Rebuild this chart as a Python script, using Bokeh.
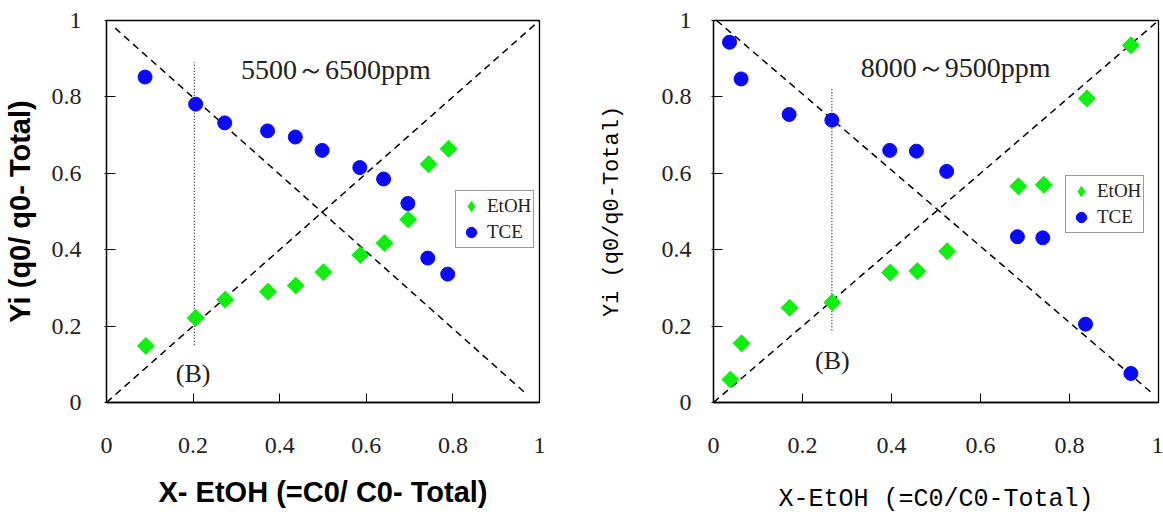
from bokeh.plotting import figure
from bokeh.layouts import row
from bokeh.models import Range1d, FixedTicker, Legend, LegendItem, CustomJSTickFormatter
from bokeh.embed import file_html
from bokeh.resources import INLINE
from bokeh.core.properties import value

ticks = [0, 0.2, 0.4, 0.6, 0.8, 1]
tick_labels = ["0", "0.2", "0.4", "0.6", "0.8", "1"]
series_names = ["EtOH", "TCE"]

# Panel A: 5500~6500 ppm
a_x_etoh = [0.091, 0.206, 0.274, 0.373, 0.437, 0.501, 0.586, 0.642, 0.697, 0.744, 0.790]
a_y_etoh = [0.148, 0.221, 0.269, 0.290, 0.306, 0.341, 0.386, 0.417, 0.479, 0.624, 0.664]
a_x_tce = [0.089, 0.206, 0.273, 0.372, 0.436, 0.498, 0.585, 0.640, 0.696, 0.742, 0.788]
a_y_tce = [0.852, 0.781, 0.732, 0.711, 0.695, 0.660, 0.615, 0.585, 0.521, 0.378, 0.336]
a_note = "5500～6500ppm"
a_b_x = 0.203
a_b_y = [0.151, 0.891]

# Panel B: 8000~9500 ppm
b_x_etoh = [0.038, 0.063, 0.171, 0.267, 0.397, 0.458, 0.525, 0.685, 0.742, 0.839, 0.938]
b_y_etoh = [0.060, 0.155, 0.248, 0.262, 0.340, 0.344, 0.396, 0.566, 0.570, 0.796, 0.935]
b_x_tce = [0.036, 0.062, 0.170, 0.266, 0.396, 0.456, 0.524, 0.683, 0.740, 0.836, 0.938]
b_y_tce = [0.943, 0.847, 0.754, 0.739, 0.660, 0.658, 0.605, 0.434, 0.431, 0.205, 0.076]
b_note = "8000～9500ppm"
b_b_x = 0.266
b_b_y = [0.189, 0.824]

diag_up_x = [0, 1]
diag_up_y = [0, 1]
a_diag_dn_x = [0.02, 0.972]
a_diag_dn_y = [0.98, 0.02]
b_diag_dn_x = [0.007, 0.99]
b_diag_dn_y = [1.0, 0.02]

GREEN = "#11EE11"
BLUE = "#0A0AF5"
SERIF = "Liberation Serif"


def make_panel(width, borders, xe, ye, xt, yt, note, note_pos, bx, by, b_lbl_pos,
               dn_x, dn_y, xlabel, ylabel, label_font, xlabel_size, ylabel_size, label_style,
               ylab_standoff, ytick_standoff, xlab_standoff, legend_loc):
    bl, br, bt, bb = borders
    p = figure(width=width, height=516, x_range=Range1d(0, 1), y_range=Range1d(0, 1),
               output_backend="svg", toolbar_location=None,
               min_border_left=bl, min_border_right=br, min_border_top=bt, min_border_bottom=bb)
    p.grid.visible = False
    p.outline_line_color = "black"
    p.outline_line_width = 1.3
    p.background_fill_color = "white"
    p.border_fill_color = "white"

    for ax in (p.xaxis[0], p.yaxis[0]):
        ax.ticker = FixedTicker(ticks=ticks)
        ax.formatter = CustomJSTickFormatter(args=dict(labels=tick_labels),
                                             code="return labels[index]")
        ax.minor_tick_line_color = None
        ax.axis_line_color = "black"
        ax.axis_line_width = 1.3
        ax.major_tick_line_color = "black"
        ax.major_label_text_font = SERIF
        ax.major_label_text_font_size = "24px"
        ax.major_label_text_color = "#222222"
        ax.axis_label_text_font = label_font
        ax.axis_label_text_font_style = label_style
        ax.axis_label_text_color = "black"
    p.xaxis.axis_label_text_font_size = xlabel_size
    p.yaxis.axis_label_text_font_size = ylabel_size
    p.xaxis.major_tick_in = 9
    p.xaxis.major_tick_out = 0
    p.xaxis.major_label_standoff = 35
    p.xaxis.axis_label = xlabel
    p.xaxis.axis_label_standoff = xlab_standoff
    p.yaxis.major_tick_in = 9
    p.yaxis.major_tick_out = 2
    p.yaxis.major_label_standoff = ytick_standoff
    p.yaxis.axis_label = ylabel
    p.yaxis.axis_label_standoff = ylab_standoff

    # guide lines
    p.line(diag_up_x, diag_up_y, line_color="black", line_width=1.5, line_dash="7 5")
    p.line(dn_x, dn_y, line_color="black", line_width=1.5, line_dash="7 5")
    p.line([bx, bx], by, line_color="#222222", line_width=1.3, line_dash="1 2")

    # diamond renderer (used for the legend swatch), covered by the rotated squares
    r_e_leg = p.scatter(xe, ye, marker="diamond", size=16,
                        fill_color=GREEN, line_color=GREEN)
    p.scatter(xe, ye, marker="square", angle=0.785398, size=12,
              fill_color=GREEN, line_color=GREEN)
    r_t = p.scatter(xt, yt, marker="circle", size=14, fill_color=BLUE, line_color=BLUE)

    p.text(x=[note_pos[0]], y=[note_pos[1]], text=[note], text_align="center",
           text_baseline="middle", text_font=value(SERIF), text_font_size="28px",
           text_color="#222222")
    p.text(x=[b_lbl_pos[0]], y=[b_lbl_pos[1]], text=["(B)"], text_align="center",
           text_baseline="middle", text_font=value(SERIF), text_font_size="26px",
           text_color="#222222")

    legend = Legend(items=[LegendItem(label=series_names[0], renderers=[r_e_leg]),
                           LegendItem(label=series_names[1], renderers=[r_t])],
                    location=legend_loc)
    legend.label_text_font = SERIF
    legend.label_text_font_size = "19px"
    legend.label_text_color = "#222222"
    legend.glyph_width = 26
    legend.glyph_height = 26
    legend.label_height = 26
    legend.label_standoff = 3
    legend.padding = 2
    legend.spacing = 0
    legend.margin = 0
    legend.border_line_color = "#333333"
    legend.border_line_width = 1.3
    legend.background_fill_alpha = 1
    p.add_layout(legend)
    return p


p1 = make_panel(580, (103, 41, 18, 108), a_x_etoh, a_y_etoh, a_x_tce, a_y_tce,
                a_note, (0.53, 0.872), a_b_x, a_b_y, (0.2, 0.077),
                a_diag_dn_x, a_diag_dn_y,
                "X- EtOH (=C0/ C0- Total)", "Yi (q0/ q0- Total)",
                "Liberation Sans", "29px", "29px", "bold", 13, 23, 20, (349, 154))

p2 = make_panel(583, (133, 5, 20, 108), b_x_etoh, b_y_etoh, b_x_tce, b_y_tce,
                b_note, (0.544, 0.876), b_b_x, b_b_y, (0.267, 0.111),
                b_diag_dn_x, b_diag_dn_y,
                "X-EtOH (=C0/C0-Total)", "Yi (q0/q0-Total)",
                "Liberation Mono", "25px", "22px", "normal", 34, 20, 29, (352, 169))

layout = row(p1, p2)
open("out.html", "w").write(file_html(layout, INLINE))
